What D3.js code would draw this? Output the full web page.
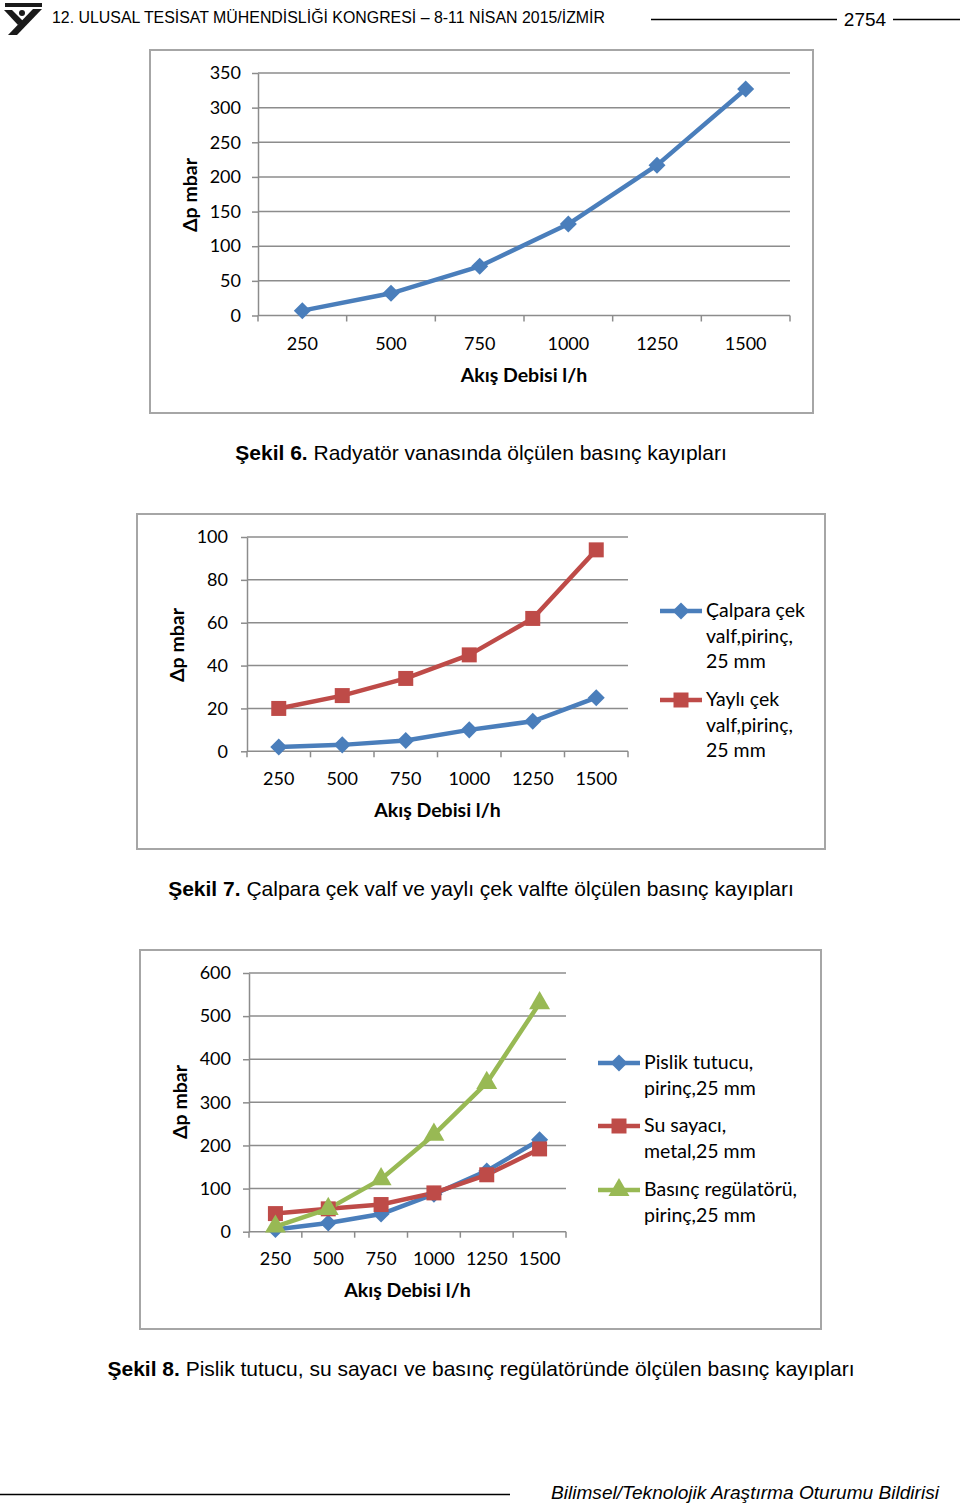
<!DOCTYPE html>
<html>
<head>
<meta charset="utf-8">
<script src="https://cdn.jsdelivr.net/npm/d3@7"></script>
<style>
  body { margin: 0; background: #fff; }
  text { font-family: Lato, "Open Sans", sans-serif; }
</style>
</head>
<body>
<div id="page"></div>
<script>
// Data
const categories = ["250", "500", "750", "1000", "1250", "1500"];

const sekil6Values = [7, 32, 71, 132, 217, 327];
const sekil6Ticks = [0, 50, 100, 150, 200, 250, 300, 350];

const calparaValues = [2, 3, 5, 10, 14, 25];
const yayliValues = [20, 26, 34, 45, 62, 94];
const sekil7Ticks = [0, 20, 40, 60, 80, 100];

const pislikValues = [5, 20, 41, 87, 141, 213];
const suSayaciValues = [42, 53, 63, 90, 132, 192];
const regulatorValues = [12, 53, 122, 225, 345, 530];
const sekil8Ticks = [0, 100, 200, 300, 400, 500, 600];

const BLUE = "#4a7ebb";
const RED = "#be4b48";
const GREEN = "#98b954";
const GRID = "#8c8c8c";

const svg = d3
  .select("#page")
  .append("svg")
  .attr("width", 960)
  .attr("height", 1507)
  .style("background", "#fff");

// Header logo
const logo = svg.append("g").attr("fill", "#1a1a1a");
logo.append("rect").attr("x", 5).attr("y", 3).attr("width", 37).attr("height", 4);
logo.append("path").attr("d", "M4,10 L12,10 L23,21 L18,25 Z");
logo.append("path").attr("d", "M33,9 L42,9 L17,35 L8,35 Z");
logo.append("circle").attr("cx", 22).attr("cy", 13).attr("r", 3);

svg
  .append("text")
  .attr("x", 52)
  .attr("y", 23)
  .attr("textLength", 553)
  .attr("lengthAdjust", "spacingAndGlyphs")
  .style("font-family", "Liberation Sans, Arial, sans-serif")
  .style("font-size", "16px")
  .text("12. ULUSAL TESİSAT MÜHENDİSLİĞİ KONGRESİ – 8-11 NİSAN 2015/İZMİR");

svg.append("line").attr("x1", 651).attr("x2", 837).attr("y1", 19.5).attr("y2", 19.5)
  .attr("stroke", "#000").attr("stroke-width", 1.3);
svg.append("line").attr("x1", 893).attr("x2", 960).attr("y1", 19.5).attr("y2", 19.5)
  .attr("stroke", "#000").attr("stroke-width", 1.3);
svg
  .append("text")
  .attr("x", 865)
  .attr("y", 26)
  .attr("text-anchor", "middle")
  .style("font-family", "Liberation Sans, Arial, sans-serif")
  .style("font-size", "19px")
  .text("2754");

// Footer
svg.append("line").attr("x1", 0).attr("x2", 510).attr("y1", 1494.5).attr("y2", 1494.5)
  .attr("stroke", "#000").attr("stroke-width", 1.3);
svg
  .append("text")
  .attr("x", 551)
  .attr("y", 1499)
  .attr("textLength", 388)
  .attr("lengthAdjust", "spacingAndGlyphs")
  .style("font-family", "Liberation Sans, Arial, sans-serif")
  .style("font-style", "italic")
  .style("font-size", "18px")
  .text("Bilimsel/Teknolojik Araştırma Oturumu Bildirisi");

function marker(g, type, color, x, y) {
  if (type === "diamond") {
    g.append("path")
      .attr("d", d3.symbol(d3.symbolSquare, 145)())
      .attr("transform", `translate(${x},${y}) rotate(45)`)
      .attr("fill", color);
  } else if (type === "square") {
    g.append("path")
      .attr("d", d3.symbol(d3.symbolSquare, 225)())
      .attr("transform", `translate(${x},${y})`)
      .attr("fill", color);
  } else {
    g.append("path")
      .attr("d", d3.symbol(d3.symbolTriangle, 190)())
      .attr("transform", `translate(${x},${y})`)
      .attr("fill", color);
  }
}

function drawChart(opt) {
  const g = svg.append("g");

  // Outer frame
  g.append("rect")
    .attr("x", opt.frame[0])
    .attr("y", opt.frame[1])
    .attr("width", opt.frame[2] - opt.frame[0])
    .attr("height", opt.frame[3] - opt.frame[1])
    .attr("fill", "#fff")
    .attr("stroke", "#a6a6a6")
    .attr("stroke-width", 2);

  const x = d3.scaleBand().domain(categories).range([opt.x0, opt.x1]);
  const y = d3.scaleLinear().domain([0, opt.ticks[opt.ticks.length - 1]]).range([opt.yb, opt.yt]);

  // Gridlines
  g.selectAll(".grid")
    .data(opt.ticks)
    .enter()
    .append("line")
    .attr("x1", opt.x0)
    .attr("x2", opt.x1)
    .attr("y1", (d) => y(d))
    .attr("y2", (d) => y(d))
    .attr("stroke", GRID)
    .attr("stroke-width", 1.5);

  // Y axis
  const yAxis = g
    .append("g")
    .attr("transform", `translate(${opt.x0},0)`)
    .call(d3.axisLeft(y).tickValues(opt.ticks).tickSize(6).tickSizeOuter(0).tickPadding(opt.ypad));
  yAxis.select(".domain").attr("stroke", GRID).attr("stroke-width", 1.5);
  yAxis.selectAll(".tick line").attr("stroke", GRID).attr("stroke-width", 1.5);
  yAxis.selectAll("text").style("font-family", "Lato, sans-serif").style("font-size", "18px").attr("fill", "#000");

  // X axis: labels at category centres, ticks at boundaries
  const xAxis = g
    .append("g")
    .attr("transform", `translate(0,${opt.yb})`)
    .call(d3.axisBottom(x).tickSize(0).tickPadding(opt.xpad));
  xAxis.select(".domain").remove();
  xAxis.selectAll("text").style("font-family", "Lato, sans-serif").style("font-size", "18px").attr("fill", "#000");
  const bounds = categories.map((c) => x(c)).concat([opt.x1]);
  g.selectAll(".xtick")
    .data(bounds)
    .enter()
    .append("line")
    .attr("x1", (d) => d)
    .attr("x2", (d) => d)
    .attr("y1", opt.yb)
    .attr("y2", opt.yb + 6)
    .attr("stroke", GRID)
    .attr("stroke-width", 1.5);

  // Axis titles
  g.append("text")
    .attr("x", (opt.x0 + opt.x1) / 2)
    .attr("y", opt.xtitleY)
    .attr("text-anchor", "middle")
    .style("font-weight", "bold")
    .style("font-size", "19.5px")
    .text("Akış Debisi l/h");
  g.append("text")
    .attr("transform", `translate(${opt.ytitleX},${opt.ytitleY}) rotate(-90)`)
    .attr("text-anchor", "middle")
    .style("font-weight", "bold")
    .style("font-size", "19.5px")
    .text("Δp mbar");

  // Series
  const line = d3
    .line()
    .x((d, i) => x(categories[i]) + x.bandwidth() / 2)
    .y((d) => y(d));
  opt.series.forEach((s) => {
    g.append("path")
      .datum(s.values)
      .attr("d", line)
      .attr("fill", "none")
      .attr("stroke", s.color)
      .attr("stroke-width", 4.5)
      .attr("stroke-linejoin", "round");
  });
  opt.series.forEach((s) => {
    s.values.forEach((v, i) => {
      marker(g, s.symbol, s.color, x(categories[i]) + x.bandwidth() / 2, y(v));
    });
  });

  // Legend
  if (opt.legend) {
    opt.series.forEach((s, k) => {
      const ly = opt.legend.y[k];
      g.append("line")
        .attr("x1", opt.legend.x)
        .attr("x2", opt.legend.x + 42)
        .attr("y1", ly)
        .attr("y2", ly)
        .attr("stroke", s.color)
        .attr("stroke-width", 4.5);
      marker(g, s.symbol, s.color, opt.legend.x + 21, ly);
      s.label.forEach((t, j) => {
        g.append("text")
          .attr("x", opt.legend.x + 46)
          .attr("y", ly + 6 + j * opt.legend.lh)
          .style("font-size", "19.5px")
          .text(t);
      });
    });
  }

  // Caption
  const cap = svg
    .append("text")
    .attr("x", 481)
    .attr("y", opt.captionY)
    .attr("text-anchor", "middle")
    .style("font-family", "Liberation Sans, Arial, sans-serif")
    .style("font-size", "21px");
  cap.append("tspan").style("font-weight", "bold").text(opt.caption[0]);
  cap.append("tspan").text(opt.caption[1]);
}

drawChart({
  frame: [150, 50, 813, 413],
  x0: 258, x1: 790, yb: 315.5, yt: 73,
  ticks: sekil6Ticks, ypad: 11, xpad: 22,
  xtitleY: 382, ytitleX: 197, ytitleY: 195,
  series: [{ values: sekil6Values, color: BLUE, symbol: "diamond" }],
  captionY: 460,
  caption: ["Şekil 6.", " Radyatör vanasında ölçülen basınç kayıpları"]
});

drawChart({
  frame: [137, 514, 825, 849],
  x0: 247, x1: 628, yb: 751.3, yt: 537,
  ticks: sekil7Ticks, ypad: 13, xpad: 21,
  xtitleY: 817, ytitleX: 184, ytitleY: 645,
  series: [
    { values: calparaValues, color: BLUE, symbol: "diamond", label: ["Çalpara çek", "valf,pirinç,", "25 mm"] },
    { values: yayliValues, color: RED, symbol: "square", label: ["Yaylı çek", "valf,pirinç,", "25 mm"] }
  ],
  legend: { x: 660, y: [611, 700], lh: 25.5 },
  captionY: 896,
  caption: ["Şekil 7.", " Çalpara çek valf ve yaylı çek valfte ölçülen basınç kayıpları"]
});

drawChart({
  frame: [140, 950, 821, 1329],
  x0: 249, x1: 566, yb: 1231.7, yt: 973,
  ticks: sekil8Ticks, ypad: 12, xpad: 21,
  xtitleY: 1297, ytitleX: 187, ytitleY: 1102,
  series: [
    { values: pislikValues, color: BLUE, symbol: "diamond", label: ["Pislik tutucu,", "pirinç,25 mm"] },
    { values: suSayaciValues, color: RED, symbol: "square", label: ["Su sayacı,", "metal,25 mm"] },
    { values: regulatorValues, color: GREEN, symbol: "triangle", label: ["Basınç regülatörü,", "pirinç,25 mm"] }
  ],
  legend: { x: 598, y: [1063, 1126, 1190], lh: 26 },
  captionY: 1376,
  caption: ["Şekil 8.", " Pislik tutucu, su sayacı ve basınç regülatöründe ölçülen basınç kayıpları"]
});
</script>
</body>
</html>
